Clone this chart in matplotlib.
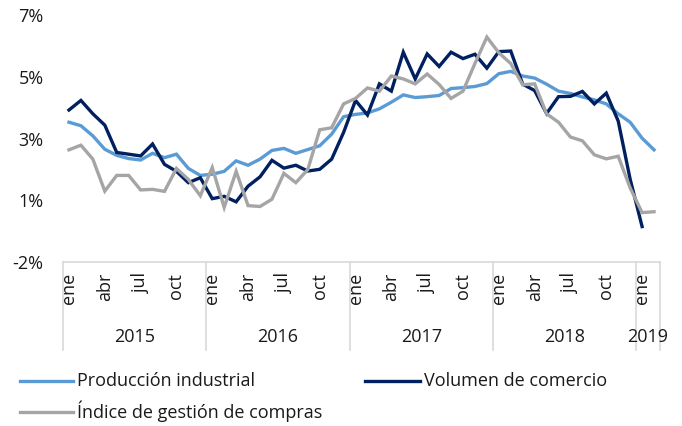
import numpy as np
import matplotlib
matplotlib.use('agg')
from matplotlib import pyplot as plt
from matplotlib.lines import Line2D
from matplotlib import transforms

# ------------------------------- data -------------------------------
series_names = ['Producción industrial', 'Volumen de comercio', 'Índice de gestión de compras']
series_colors = ['#5B9BD5', '#002060', '#A5A5A5']

# monthly, ene 2015 .. feb 2019 (50 months)
produccion = [3.31, 3.19, 2.84, 2.38, 2.17, 2.06, 2.01, 2.24, 2.09, 2.21, 1.72, 1.48,
              1.52, 1.62, 1.98, 1.83, 2.04, 2.34, 2.41, 2.24, 2.37, 2.50, 2.90, 3.50,
              3.58, 3.63, 3.77, 4.00, 4.25, 4.16, 4.19, 4.23, 4.47, 4.50, 4.54, 4.64,
              4.98, 5.06, 4.90, 4.83, 4.62, 4.38, 4.30, 4.18, 4.08, 3.94, 3.60, 3.31,
              2.76, 2.36]
comercio = [3.73, 4.06, 3.60, 3.21, 2.27, 2.21, 2.15, 2.56, 1.86, 1.62, 1.23, 1.40,
            0.68, 0.76, 0.57, 1.11, 1.43, 2.00, 1.73, 1.83, 1.63, 1.69, 2.04, 2.96,
            4.06, 3.56, 4.63, 4.38, 5.72, 4.80, 5.66, 5.23, 5.72, 5.50, 5.65, 5.17,
            5.74, 5.76, 4.62, 4.40, 3.61, 4.19, 4.20, 4.37, 3.94, 4.31, 3.35, 1.35,
            -0.28, np.nan]
compras = [2.36, 2.52, 2.04, 0.94, 1.48, 1.48, 0.98, 1.00, 0.93, 1.72, 1.34, 0.78,
           1.75, 0.38, 1.62, 0.44, 0.41, 0.66, 1.55, 1.23, 1.68, 3.05, 3.12, 3.94,
           4.13, 4.49, 4.38, 4.90, 4.80, 4.63, 4.97, 4.61, 4.13, 4.38, 5.33, 6.24,
           5.70, 5.33, 4.60, 4.63, 3.60, 3.31, 2.80, 2.67, 2.19, 2.05, 2.14, 1.05,
           0.20, 0.23]

month_labels = ['ene', 'abr', 'jul', 'oct']
years = ['2015', '2016', '2017', '2018', '2019']
months_per_year = [12, 12, 12, 12, 2]

y_ticks = [-1.5, 0.625, 2.75, 4.875, 7.0]
y_tick_labels = ['-2%', '1%', '3%', '5%', '7%']

# ------------------------------- plot -------------------------------
plt.rcParams['font.family'] = ['Open Sans', 'DejaVu Sans']
fsize = 13
txt_col = '#1a1a1a'

W, H = 682, 426
fig = plt.figure(figsize=(W / 100, H / 100), dpi=100)
left, right, top, bottom = 63, 660, 15, 262
ax = fig.add_axes([left / W, 1 - bottom / H, (right - left) / W, (bottom - top) / H])

n = len(produccion)
x = np.arange(n) + 0.5
for vals, name, col in zip([produccion, comercio, compras], series_names, series_colors):
    ax.plot(x, vals, color=col, lw=2.4, label=name, solid_joinstyle='miter')

ax.set_xlim(0, n)
ax.set_ylim(-1.5, 7)
ax.set_yticks(y_ticks)
ax.set_yticklabels(y_tick_labels, fontsize=fsize, color=txt_col)
ax.tick_params(axis='y', length=0, pad=14)
ax.set_xticks([])
for s in ['top', 'right', 'left']:
    ax.spines[s].set_visible(False)
ax.spines['bottom'].set_color('#d9d9d9')
ax.spines['bottom'].set_linewidth(1.2)

# two level category axis
trans = transforms.blended_transform_factory(ax.transData, ax.transAxes)
sep_bottom = -(350 - bottom) / (bottom - top)
start = 0
for yr, m in zip(years, months_per_year):
    ax.plot([start, start], [0, sep_bottom], color='#d9d9d9', lw=1.2,
            transform=trans, clip_on=False)
    for k in range(0, m, 3):
        ax.text(start + k + 0.5, -0.045, month_labels[k // 3], rotation=90,
                ha='center', va='top', fontsize=fsize, transform=trans, color=txt_col)
    ax.text(start + m / 2, -(337 - bottom) / (bottom - top), yr, ha='center',
            va='center', fontsize=fsize, transform=trans, color=txt_col)
    start += m
ax.plot([start, start], [0, sep_bottom], color='#d9d9d9', lw=1.2,
        transform=trans, clip_on=False)

# legend drawn by hand in figure pixels
leg_pos = [(20, 73, 77, 381), (365, 420, 424, 381), (20, 73, 77, 411.5)]
for (x0, x1, tx, ty), name, col in zip(leg_pos, series_names, series_colors):
    fig.add_artist(Line2D([x0 / W, x1 / W], [1 - ty / H, 1 - ty / H], color=col,
                          lw=2.4, transform=fig.transFigure))
    fig.text(tx / W, 1 - ty / H, name, ha='left', va='center', fontsize=fsize,
             color=txt_col)

fig.savefig('out.png', dpi=100)
